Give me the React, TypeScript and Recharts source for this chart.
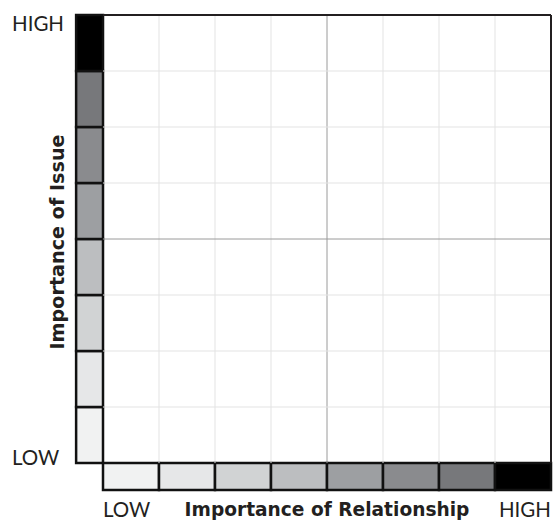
import React from 'react';
import { ComposedChart, XAxis, YAxis, ReferenceArea, ReferenceLine, Scatter } from 'recharts';

const levels = [0, 1, 2, 3, 4, 5, 6, 7];
const levelColors = ['#f1f2f2', '#e6e7e8', '#d1d3d4', '#bcbec0', '#9d9fa2', '#8a8b8e', '#77787b', '#000000'];
const gridLines = [1, 2, 3, 4, 5, 6, 7];
const axisTicks = [0, 8];
const tickLabels = ['LOW', 'HIGH'];
const xTitle = 'Importance of Relationship';
const yTitle = 'Importance of Issue';
const BAND = 0.48;

const anchorPoints = axisTicks.map((v) => ({ x: v, y: v }));

const thinFont = 'Lato, "Open Sans", sans-serif';
const boldFont = '"DejaVu Sans", Verdana, sans-serif';

const XTick = (props: any) => {
  const { x, y, payload } = props;
  const idx = axisTicks.indexOf(payload.value);
  return (
    <text x={x} y={y + 46} textAnchor={idx === 0 ? 'start' : 'end'} fontFamily={thinFont} fontSize={20.5} fill="#231f20">
      {tickLabels[idx]}
    </text>
  );
};

const YTick = (props: any) => {
  const { y, payload } = props;
  const idx = axisTicks.indexOf(payload.value);
  return (
    <text x={12} y={idx === 0 ? y + 2 : y + 16} textAnchor="start" fontFamily={thinFont} fontSize={20.5} fill="#231f20">
      {tickLabels[idx]}
    </text>
  );
};

const XTitle = (props: any) => {
  const vb = props.viewBox;
  return (
    <text x={vb.x + vb.width / 2} y={vb.y + 53} textAnchor="middle" fontFamily={boldFont} fontWeight="bold" fontSize={18.6} fill="#231f20">
      {xTitle}
    </text>
  );
};

const YTitle = (props: any) => {
  const vb = props.viewBox;
  const cx = 64;
  const cy = vb.y + vb.height / 2 + 3;
  return (
    <text x={cx} y={cy} transform={`rotate(-90 ${cx} ${cy})`} textAnchor="middle" fontFamily={boldFont} fontWeight="bold" fontSize={19.2} fill="#231f20">
      {yTitle}
    </text>
  );
};

export default function App() {
  return (
    <div style={{ position: 'absolute', left: 0, top: 0, background: '#fff' }}>
      <ComposedChart width={556} height={520} data={anchorPoints} margin={{ top: 15, right: 5, left: 0, bottom: 0 }}>
        <XAxis
          type="number"
          dataKey="x"
          domain={[0, 8]}
          ticks={axisTicks}
          axisLine={false}
          tickLine={false}
          tick={<XTick />}
          height={57}
          label={<XTitle />}
          interval={0}
        />
        <YAxis
          type="number"
          dataKey="y"
          domain={[0, 8]}
          ticks={axisTicks}
          axisLine={false}
          tickLine={false}
          tick={<YTick />}
          width={103}
          label={<YTitle />}
          interval={0}
        />
        {gridLines.map((v) => (
          <ReferenceLine key={`vx${v}`} x={v} stroke={v === 4 ? '#9a9a9a' : '#e3e3e3'} strokeWidth={1} />
        ))}
        {gridLines.map((v) => (
          <ReferenceLine key={`hy${v}`} y={v} stroke={v === 4 ? '#9a9a9a' : '#e3e3e3'} strokeWidth={1} />
        ))}
        <ReferenceLine y={8} stroke="#231f20" strokeWidth={2} />
        <ReferenceLine x={8} stroke="#231f20" strokeWidth={2} />
        {levels.map((i) => (
          <ReferenceArea
            key={`l${i}`}
            x1={-BAND}
            x2={0}
            y1={i}
            y2={i + 1}
            fill={levelColors[i]}
            fillOpacity={1}
            stroke="#111"
            strokeWidth={2.5}
            ifOverflow="visible"
          />
        ))}
        {levels.map((i) => (
          <ReferenceArea
            key={`b${i}`}
            x1={i}
            x2={i + 1}
            y1={-BAND}
            y2={0}
            fill={levelColors[i]}
            fillOpacity={1}
            stroke="#111"
            strokeWidth={2.5}
            ifOverflow="visible"
          />
        ))}
        <Scatter dataKey="y" fill="none" shape={() => null} isAnimationActive={false} />
      </ComposedChart>
    </div>
  );
}
